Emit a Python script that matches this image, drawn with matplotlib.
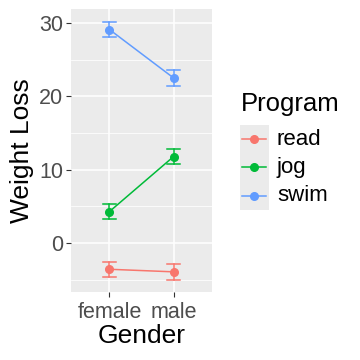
import matplotlib
matplotlib.use("Agg")
import matplotlib.pyplot as plt
from matplotlib.patches import Rectangle
from matplotlib.lines import Line2D

# values
genders = ["female", "male"]
programs = ["read", "jog", "swim"]
colors = ["#F8766D", "#00BA38", "#619CFF"]
means = {
    "read": [-3.6, -3.95],
    "jog": [4.27, 11.77],
    "swim": [29.1, 22.5],
}
ci_low = {
    "read": [-4.7, -5.0],
    "jog": [3.2, 10.7],
    "swim": [28.05, 21.45],
}
ci_high = {
    "read": [-2.6, -2.9],
    "jog": [5.3, 12.8],
    "swim": [30.1, 23.6],
}
y_ticks = [0, 10, 20, 30]
y_minor = [-5, 5, 15, 25]

plt.rcParams["font.family"] = ["Liberation Sans", "DejaVu Sans"]

fig = plt.figure(figsize=(3.6, 3.6), dpi=100)
ax = fig.add_axes([71 / 360, 68 / 360, 141 / 360, 283 / 360])
ax.set_facecolor("#EBEBEB")

xs = list(range(1, len(genders) + 1))
cap = 0.1
for prog, col in zip(programs, colors):
    ax.plot(xs, means[prog], color=col, lw=1.1, zorder=3)
    ax.plot(xs, means[prog], "o", color=col, ms=5.5, zorder=4)
    for x, lo, hi in zip(xs, ci_low[prog], ci_high[prog]):
        ax.plot([x, x], [lo, hi], color=col, lw=1.1, zorder=3)
        ax.plot([x - cap, x + cap], [lo, lo], color=col, lw=1.1, zorder=3)
        ax.plot([x - cap, x + cap], [hi, hi], color=col, lw=1.1, zorder=3)

ax.set_xlim(0.4, 2.6)
ax.set_ylim(-6.7, 31.9)
ax.set_xticks(xs)
ax.set_xticklabels(genders)
ax.set_yticks(y_ticks)
ax.set_yticks(y_minor, minor=True)
ax.grid(True, which="major", color="white", lw=1.1)
ax.grid(True, which="minor", axis="y", color="white", lw=0.55)
ax.set_axisbelow(True)
for s in ax.spines.values():
    s.set_visible(False)
ax.tick_params(axis="both", which="major", length=3.5, width=0.8, color="#333333",
               labelcolor="#4D4D4D", labelsize=15.5, pad=2)
ax.tick_params(axis="x", which="major", pad=3.5)
ax.tick_params(axis="y", which="minor", length=0)
ax.set_xlabel("Gender", fontsize=19, labelpad=1)
ax.set_ylabel("Weight Loss", fontsize=19, labelpad=4)

# legend drawn by hand to get ggplot-style grey key boxes
fig.text(241 / 360, 1 - 104 / 360, "Program", fontsize=18.5, va="center", ha="left")
key_top = 125
key_h = 28.3
for i, (prog, col) in enumerate(zip(programs, colors)):
    y0 = key_top + i * key_h
    fig.add_artist(Rectangle((240 / 360, 1 - (y0 + key_h) / 360), 29 / 360, key_h / 360,
                             transform=fig.transFigure, facecolor="#EBEBEB", edgecolor="none"))
    yc = 1 - (y0 + key_h / 2) / 360
    fig.add_artist(Line2D([242 / 360, 266 / 360], [yc, yc], transform=fig.transFigure,
                          color=col, lw=1.1))
    fig.add_artist(Line2D([254 / 360], [yc], transform=fig.transFigure, marker="o",
                          color=col, ms=5.5))
    fig.text(277 / 360, yc, prog, fontsize=16, va="center", ha="left")

fig.savefig("out.png", dpi=100)
